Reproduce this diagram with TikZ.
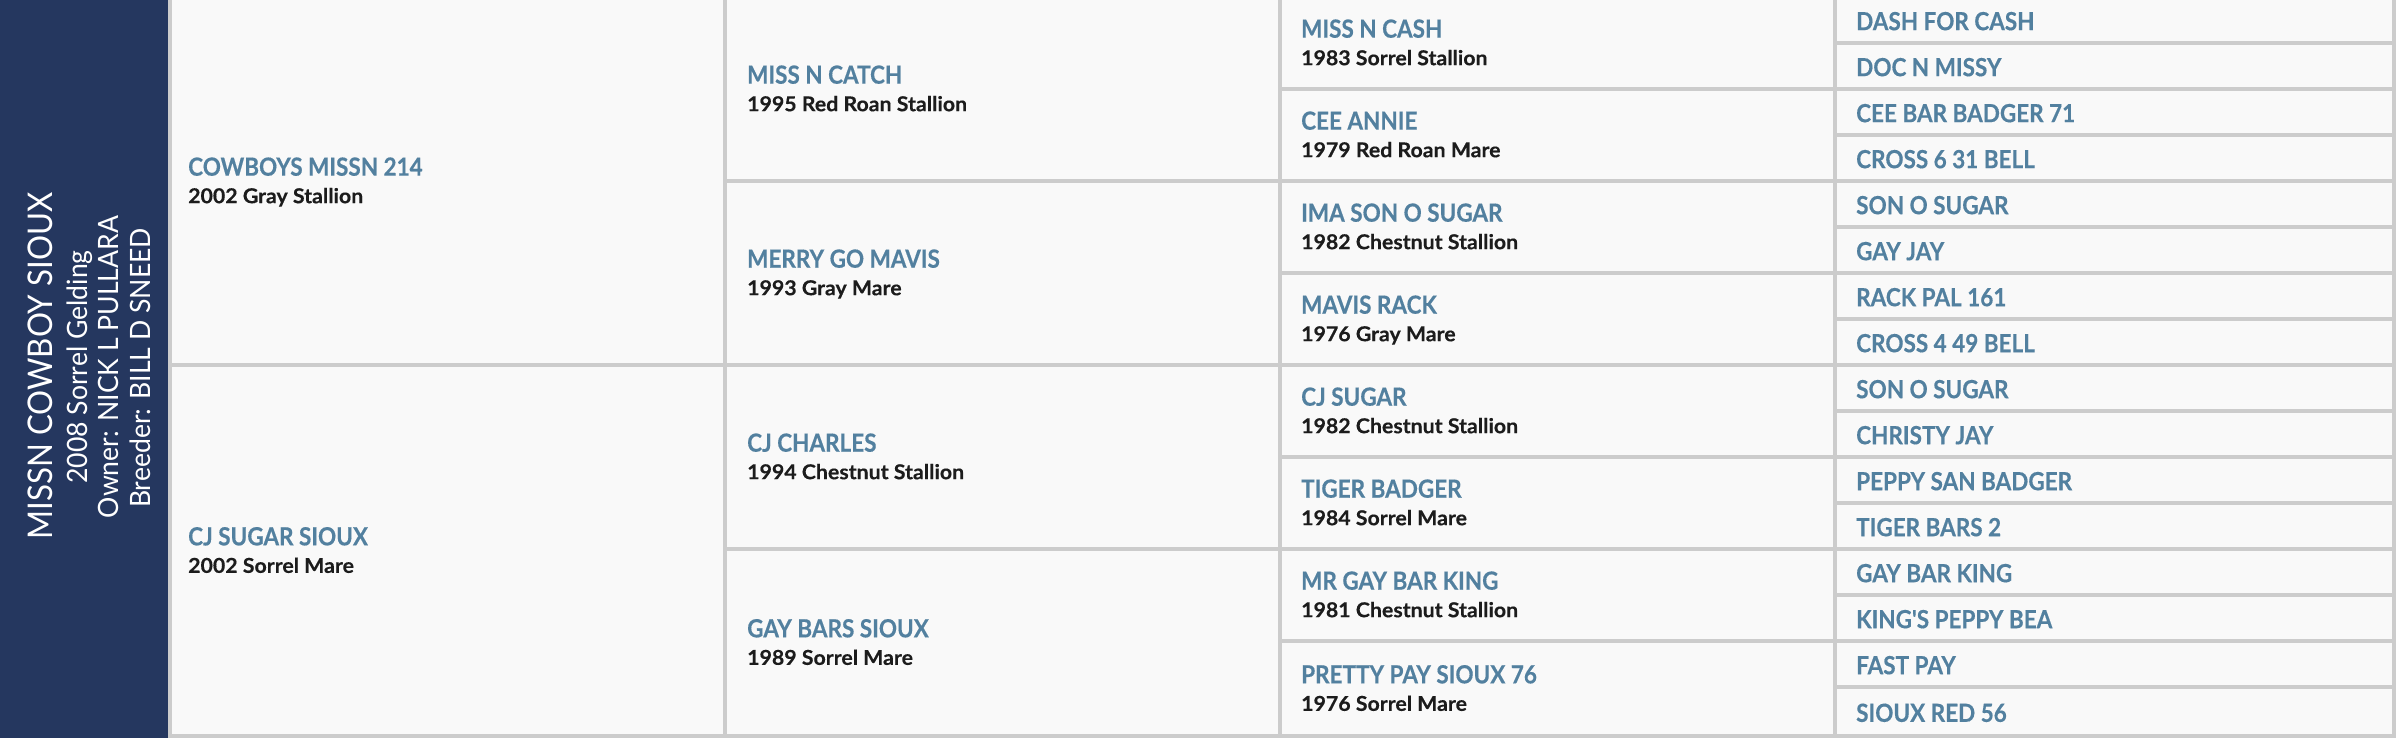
\documentclass[tikz,border=0pt]{standalone}
\usepackage{fontspec}
\setmainfont{Lato}
\newfontfamily\namefam{Lato Bold}[FakeStretch=0.9,FakeBold=0.4]
\newfontfamily\subfam{Lato Bold}[FakeStretch=1.04,FakeBold=0.3]
\newfontfamily\leftbigfam{Lato}[FakeStretch=0.92]
\newfontfamily\leftsmallfam{Lato}[FakeStretch=0.95]
\definecolor{navybg}{HTML}{25375F}
\definecolor{nameblue}{HTML}{52809F}
\definecolor{subblack}{HTML}{1C1C1C}
\definecolor{gridgray}{HTML}{CCCCCC}
\definecolor{cellbg}{HTML}{F9F9F9}
\tikzset{
  nm/.style={anchor=base west, inner sep=0pt, text=nameblue, yshift=5pt,
    font=\namefam\fontsize{25}{28}\selectfont},
  sb/.style={anchor=base west, inner sep=0pt, text=subblack, yshift=-22.5pt,
    font=\subfam\fontsize{20.5}{23}\selectfont},
  lf/.style={anchor=base west, inner sep=0pt, text=nameblue, yshift=-10.5pt,
    font=\namefam\fontsize{25}{28}\selectfont},
  hbig/.style={rotate=90, anchor=base, inner sep=0pt, text=white,
    font=\leftbigfam\fontsize{34}{40}\selectfont},
  hsmall/.style={rotate=90, anchor=base, inner sep=0pt, text=white,
    font=\leftsmallfam\fontsize{28}{32}\selectfont}
}
\begin{document}
\begin{tikzpicture}[x=1pt,y=-1pt]
\useasboundingbox (0,0) rectangle (2398,738);
\fill[white] (0,0) rectangle (2398,738);
\fill[gridgray] (168,0) rectangle (2396,738);
\fill[navybg] (0,0) rectangle (168,738);
\foreach \xl/\xr/\sp in {172/722.7/8, 726.7/1277.7/4, 1281.7/1832.7/2, 1836.7/2392/1} {
  \pgfmathtruncatemacro\ncells{16/\sp}
  \foreach \i in {1,...,\ncells} {
    \pgfmathsetmacro\ya{max(0,46*(\i-1)*\sp-1.3)}
    \pgfmathsetmacro\yb{(\i*\sp==16)?734:(46*\i*\sp-5.3)}
    \fill[cellbg] (\xl,\ya) rectangle (\xr,\yb);
  }
}
% subject
\node[hbig] (subj) at (52,366) {MISSN COWBOY SIOUX};
\node[hsmall] (subjdesc) at (87,367) {2008 Sorrel Gelding};
\node[hsmall] (owner) at (118,367) {Owner: NICK L PULLARA};
\node[hsmall] (breeder) at (150,368) {Breeder: BILL D SNEED};
% generation 1
\node[nm] (s) at (188,180.7) {COWBOYS MISSN 214};
\node[sb] (sd) at (188,180.7) {2002 Gray Stallion};
\node[nm] (d) at (188,550.35) {CJ SUGAR SIOUX};
\node[sb] (dd) at (188,550.35) {2002 Sorrel Mare};
% generation 2
\node[nm] (ss) at (747,88.7) {MISS N CATCH};
\node[sb] (ssd) at (747,88.7) {1995 Red Roan Stallion};
\node[nm] (sdm) at (747,272.7) {MERRY GO MAVIS};
\node[sb] (sdmd) at (747,272.7) {1993 Gray Mare};
\node[nm] (ds) at (747,456.7) {CJ CHARLES};
\node[sb] (dsd) at (747,456.7) {1994 Chestnut Stallion};
\node[nm] (dm) at (747,642.35) {GAY BARS SIOUX};
\node[sb] (dmd) at (747,642.35) {1989 Sorrel Mare};
% generation 3
\node[nm] (g3a) at (1301,42.7) {MISS N CASH};
\node[sb] (g3ad) at (1301,42.7) {1983 Sorrel Stallion};
\node[nm] (g3b) at (1301,134.7) {CEE ANNIE};
\node[sb] (g3bd) at (1301,134.7) {1979 Red Roan Mare};
\node[nm] (g3c) at (1301,226.7) {IMA SON O SUGAR};
\node[sb] (g3cd) at (1301,226.7) {1982 Chestnut Stallion};
\node[nm] (g3d) at (1301,318.7) {MAVIS RACK};
\node[sb] (g3dd) at (1301,318.7) {1976 Gray Mare};
\node[nm] (g3e) at (1301,410.7) {CJ SUGAR};
\node[sb] (g3ed) at (1301,410.7) {1982 Chestnut Stallion};
\node[nm] (g3f) at (1301,502.7) {TIGER BADGER};
\node[sb] (g3fd) at (1301,502.7) {1984 Sorrel Mare};
\node[nm] (g3g) at (1301,594.7) {MR GAY BAR KING};
\node[sb] (g3gd) at (1301,594.7) {1981 Chestnut Stallion};
\node[nm] (g3h) at (1301,688.35) {PRETTY PAY SIOUX 76};
\node[sb] (g3hd) at (1301,688.35) {1976 Sorrel Mare};
% generation 4
\node[lf] (g4a) at (1856,19.7) {DASH FOR CASH};
\node[lf] (g4b) at (1856,65.7) {DOC N MISSY};
\node[lf] (g4c) at (1856,111.7) {CEE BAR BADGER 71};
\node[lf] (g4d) at (1856,157.7) {CROSS 6 31 BELL};
\node[lf] (g4e) at (1856,203.7) {SON O SUGAR};
\node[lf] (g4f) at (1856,249.7) {GAY JAY};
\node[lf] (g4g) at (1856,295.7) {RACK PAL 161};
\node[lf] (g4h) at (1856,341.7) {CROSS 4 49 BELL};
\node[lf] (g4i) at (1856,387.7) {SON O SUGAR};
\node[lf] (g4j) at (1856,433.7) {CHRISTY JAY};
\node[lf] (g4k) at (1856,479.7) {PEPPY SAN BADGER};
\node[lf] (g4l) at (1856,525.7) {TIGER BARS 2};
\node[lf] (g4m) at (1856,571.7) {GAY BAR KING};
\node[lf] (g4n) at (1856,617.7) {KING'S PEPPY BEA};
\node[lf] (g4o) at (1856,663.7) {FAST PAY};
\node[lf] (g4p) at (1856,711.35) {SIOUX RED 56};
\end{tikzpicture}
\end{document}
